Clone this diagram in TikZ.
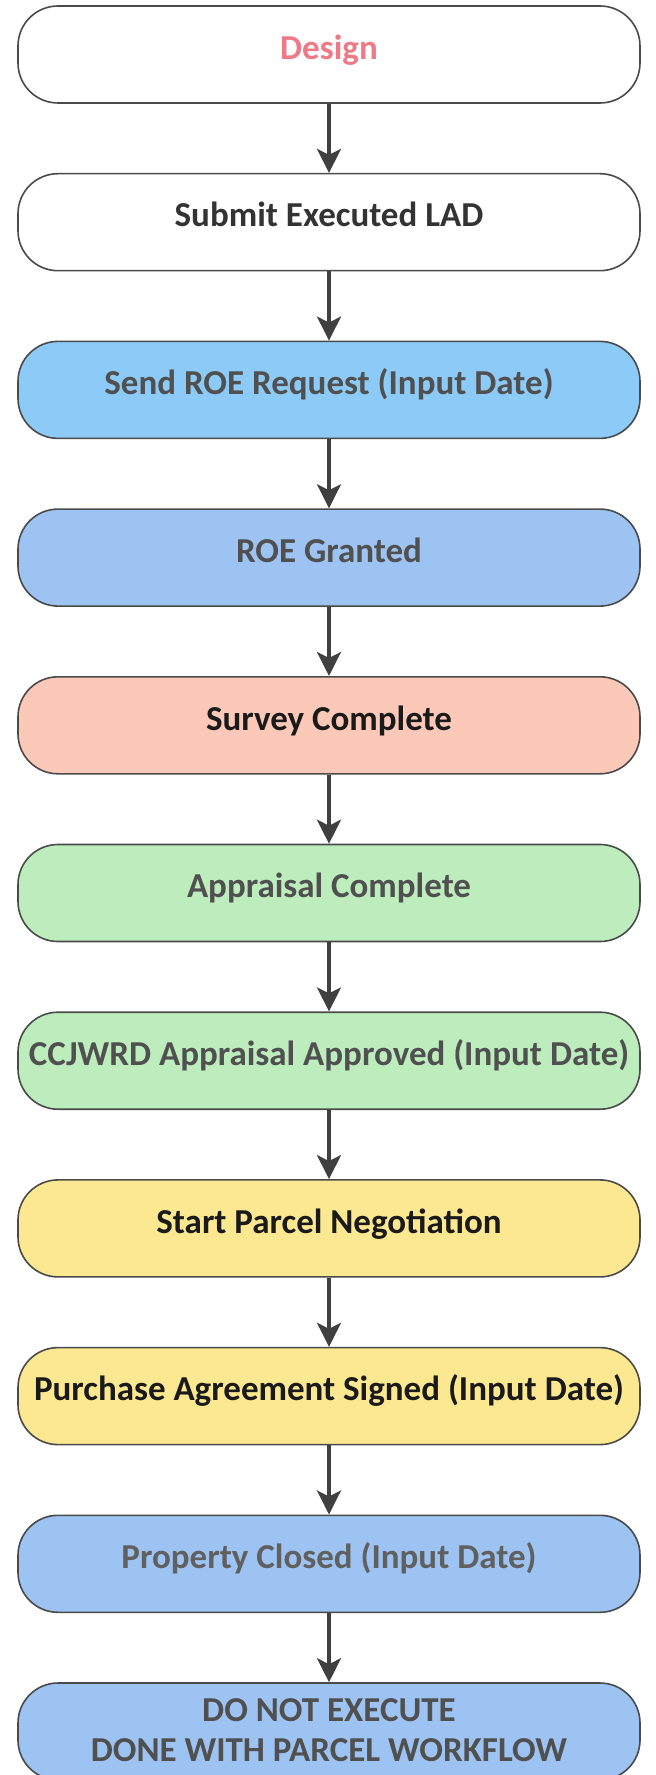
\documentclass[tikz,border=0pt]{standalone}
\usepackage{fontspec}
\setmainfont{Carlito}
\usetikzlibrary{arrows.meta}
\usetikzlibrary{positioning}

\definecolor{designpink}{HTML}{EE7A88}
\definecolor{sendblue}{HTML}{8CCBF7}
\definecolor{grantblue}{HTML}{9DC3F2}
\definecolor{surveypink}{HTML}{FCC8B8}
\definecolor{apprgreen}{HTML}{BDEDBD}
\definecolor{parcelyellow}{HTML}{FCE890}
\definecolor{boxline}{HTML}{4A4A4A}
\definecolor{arrowgray}{HTML}{404040}
\definecolor{txtdark}{HTML}{333333}
\definecolor{txtgray}{HTML}{505050}
\definecolor{txtlight}{HTML}{606060}
\definecolor{txtblack}{HTML}{1A1A1A}

\begin{document}
\begin{tikzpicture}
	[every node/.style={font=\fontsize{17.5}{20}\selectfont\bfseries},
	 stagebox/.style={draw=boxline, line width=0.8pt, rounded corners=20pt,
	   minimum width=311pt, minimum height=48.5pt, inner sep=2pt, align=center,
	   text height=0.7em, text depth=0.22em},
	 flow/.style={draw=arrowgray, line width=1.8pt,
	   -{Stealth[length=12pt,width=12pt,inset=3pt]}},
	 node distance=34.55pt]
	\useasboundingbox (0,0) rectangle (328pt,-887.5pt);

	% workflow stages, top to bottom
	\node[stagebox, fill=white, text=designpink] (design) at (164.5pt,-27.25pt) {Design};
	\node[stagebox, fill=white, text=txtdark, below=of design] (lad) {Submit Executed LAD};
	\node[stagebox, fill=sendblue, text=txtgray, below=of lad] (roereq) {Send ROE Request (Input Date)};
	\node[stagebox, fill=grantblue, text=txtgray, below=of roereq] (roegrant) {ROE Granted};
	\node[stagebox, fill=surveypink, text=txtblack, below=of roegrant] (survey) {Survey Complete};
	\node[stagebox, fill=apprgreen, text=txtgray, below=of survey] (appraisal) {Appraisal Complete};
	\node[stagebox, fill=apprgreen, text=txtgray, below=of appraisal] (approved) {CCJWRD Appraisal Approved (Input Date)};
	\node[stagebox, fill=parcelyellow, text=txtblack, below=of approved] (negot) {Start Parcel Negotiation};
	\node[stagebox, fill=parcelyellow, text=txtblack, below=of negot] (purchase) {Purchase Agreement Signed (Input Date)};
	\node[stagebox, fill=grantblue, text=txtlight, below=of purchase] (closed) {Property Closed (Input Date)};
	\node[stagebox, fill=grantblue, text=txtgray, text height=31.5pt, text depth=1.6pt, below=of closed] (done)
	  {DO NOT EXECUTE\\DONE WITH PARCEL WORKFLOW};

	% arrows
	\draw[flow] (design) -- (lad);
	\draw[flow] (lad) -- (roereq);
	\draw[flow] (roereq) -- (roegrant);
	\draw[flow] (roegrant) -- (survey);
	\draw[flow] (survey) -- (appraisal);
	\draw[flow] (appraisal) -- (approved);
	\draw[flow] (approved) -- (negot);
	\draw[flow] (negot) -- (purchase);
	\draw[flow] (purchase) -- (closed);
	\draw[flow] (closed) -- (done);
\end{tikzpicture}
\end{document}
